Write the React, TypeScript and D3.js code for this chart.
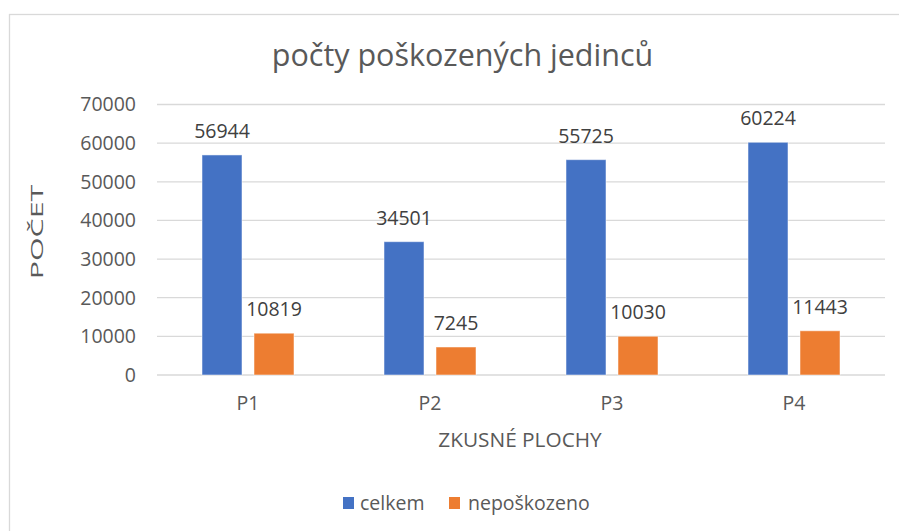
import React from "react";
import * as d3 from "d3";

const categories = ["P1", "P2", "P3", "P4"];
const seriesNames = ["celkem", "nepoškozeno"];
const celkem = [56944, 34501, 55725, 60224];
const neposkozeno = [10819, 7245, 10030, 11443];
const yTicks = [0, 10000, 20000, 30000, 40000, 50000, 60000, 70000];
const colors = ["#4472C4", "#ED7D31"];

const W = 899;
const H = 531;
const FONT = "'Open Sans', sans-serif";
const TEXT = "#595959";

export default function App() {
  const series = [celkem, neposkozeno];
  const x = d3.scaleBand<string>().domain(categories).range([157, 885]).paddingInner(0).paddingOuter(0);
  const bw = x.bandwidth();
  const xs = d3
    .scaleBand<string>()
    .domain(seriesNames)
    .range([bw / 2 - 46, bw / 2 + 46])
    .paddingInner(12 / 52)
    .paddingOuter(0);
  const y = d3.scaleLinear().domain([0, 70000]).range([375, 104.5]);

  return (
    <svg
      width={W}
      height={H}
      style={{ position: "absolute", left: 0, top: 0, display: "block", background: "#fff" }}
      fontFamily={FONT}
    >
      <rect x={9.5} y={14.5} width={1000} height={600} fill="#fff" stroke="#d9d9d9" strokeWidth={1.3} />
      <text x={462.5} y={66} textAnchor="middle" fontSize={30.5} fill={TEXT}>
        počty poškozených jedinců
      </text>
      {yTicks.map((t) => (
        <g key={t}>
          <line x1={157} x2={885} y1={y(t)} y2={y(t)} stroke="#d9d9d9" strokeWidth={1.3} />
          <text x={136} y={y(t)} dy="0.35em" textAnchor="end" fontSize={19.5} fill={TEXT}>
            {t}
          </text>
        </g>
      ))}
      {categories.map((c, i) => (
        <g key={c} transform={`translate(${x(c)},0)`}>
          {series.map((s, j) => {
            const bx = xs(seriesNames[j])!;
            const v = s[i];
            return (
              <g key={j}>
                <rect
                  x={bx}
                  y={y(v)}
                  width={xs.bandwidth()}
                  height={y(0) - y(v)}
                  fill={colors[j]}
                  stroke="#ffffff"
                  strokeOpacity={0.5}
                  strokeWidth={1}
                />
                <text
                  x={bx + xs.bandwidth() / 2}
                  y={y(v) - 17}
                  textAnchor="middle"
                  fontSize={19.5}
                  fill="#404040"
                >
                  {v}
                </text>
              </g>
            );
          })}
          <text x={bw / 2} y={410} textAnchor="middle" fontSize={19.5} fill={TEXT}>
            {c}
          </text>
        </g>
      ))}
      <text x={520} y={446.5} textAnchor="middle" fontSize={20.8} fill={TEXT}>
        ZKUSNÉ PLOCHY
      </text>
      <g transform="translate(43,232) rotate(-90) scale(1.9,1)">
        <text x={0} y={0} textAnchor="middle" fontSize={16} fill={TEXT}>
          POČET
        </text>
      </g>
      <g>
        <rect x={343} y={497} width={11} height={12} fill={colors[0]} />
        <text x={360} y={510} fontSize={19.5} fill={TEXT}>
          {seriesNames[0]}
        </text>
        <rect x={449} y={497} width={11} height={12} fill={colors[1]} />
        <text x={468} y={510} fontSize={19.5} fill={TEXT}>
          {seriesNames[1]}
        </text>
      </g>
    </svg>
  );
}
